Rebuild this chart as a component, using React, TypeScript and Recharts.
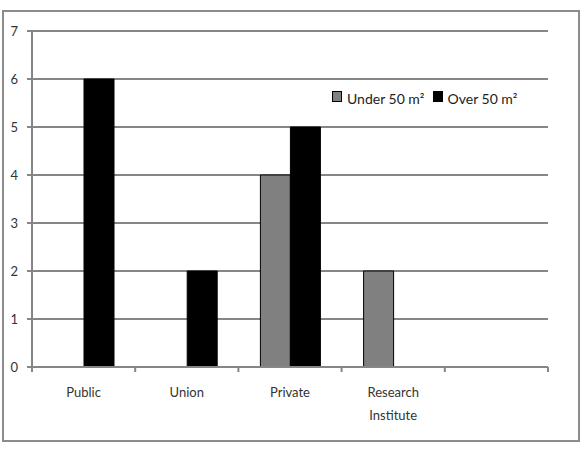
import { Bar, BarChart, CartesianGrid, Text, XAxis, YAxis } from "recharts";

const categories = ["Public", "Union", "Private", "Research Institute", ""];
const under50 = [0, 0, 4, 2, 0];
const over50 = [6, 2, 5, 0, 0];
const yTicks = [0, 1, 2, 3, 4, 5, 6, 7];

const data = categories.map((name, i) => ({
  name,
  under: under50[i],
  over: over50[i],
}));

const FONT = "Lato, 'Open Sans', sans-serif";
const AXIS = "#868686";

function CategoryTick(props: any) {
  const { x, y, payload, index, visibleTicksCount } = props;
  const half = payload?.offset || 51.6;
  const top = y - 8;
  return (
    <g>
      <line x1={x - half} x2={x - half} y1={top} y2={top + 5} stroke={AXIS} strokeWidth={2} />
      {index === visibleTicksCount - 1 && (
        <line x1={x + half} x2={x + half} y1={top} y2={top + 5} stroke={AXIS} strokeWidth={2} />
      )}
      <Text
        x={x}
        y={y + 22}
        width={70}
        textAnchor="middle"
        verticalAnchor="middle"
        lineHeight={23}
        fontSize={13}
        fontFamily={FONT}
        fill="#333"
      >
        {payload.value}
      </Text>
    </g>
  );
}

function LegendBox() {
  const items = [
    { label: "Under 50 m²", fill: "#808080" },
    { label: "Over 50 m²", fill: "#000" },
  ];
  return (
    <div
      style={{
        position: "absolute",
        left: 332,
        top: 90,
        display: "flex",
        fontFamily: FONT,
        fontSize: 14,
        color: "#222",
      }}
    >
      {items.map((it) => (
        <div key={it.label} style={{ display: "flex", alignItems: "center", marginRight: 8 }}>
          <span
            style={{
              display: "inline-block",
              width: 8,
              height: 9,
              background: it.fill,
              border: "1px solid #000",
              marginRight: 5,
              marginTop: -5,
            }}
          />
          <span>{it.label}</span>
        </div>
      ))}
    </div>
  );
}

export default function App() {
  return (
    <div style={{ position: "absolute", left: 0, top: 0, width: 582, height: 450, background: "#fff" }}>
      <div
        style={{
          position: "absolute",
          left: 2,
          top: 10,
          width: 574,
          height: 428,
          border: "2px solid #8c8c8c",
        }}
      />
      <BarChart
        width={582}
        height={450}
        data={data}
        margin={{ top: 31, right: 34, bottom: 23, left: 0 }}
        barGap={0}
        barCategoryGap={0}
        style={{ position: "absolute", left: 0, top: 0 }}
      >
        <CartesianGrid vertical={false} stroke={AXIS} strokeWidth={2} />
        <YAxis
          width={32}
          domain={[0, 7]}
          ticks={yTicks}
          interval={0}
          axisLine={{ stroke: AXIS, strokeWidth: 2 }}
          tickLine={{ stroke: AXIS, strokeWidth: 2 }}
          tickSize={5}
          tickMargin={9}
          tick={{ fontSize: 13, fontFamily: FONT, fill: "#333" }}
        />
        <XAxis
          dataKey="name"
          height={60}
          interval={0}
          axisLine={{ stroke: AXIS, strokeWidth: 2 }}
          tickLine={false}
          tick={<CategoryTick />}
        />
        <Bar dataKey="under" barSize={30} fill="#808080" stroke="#000" strokeWidth={1} isAnimationActive={false} />
        <Bar dataKey="over" barSize={30} fill="#000" stroke="#000" strokeWidth={1} isAnimationActive={false} />
      </BarChart>
      <LegendBox />
    </div>
  );
}
